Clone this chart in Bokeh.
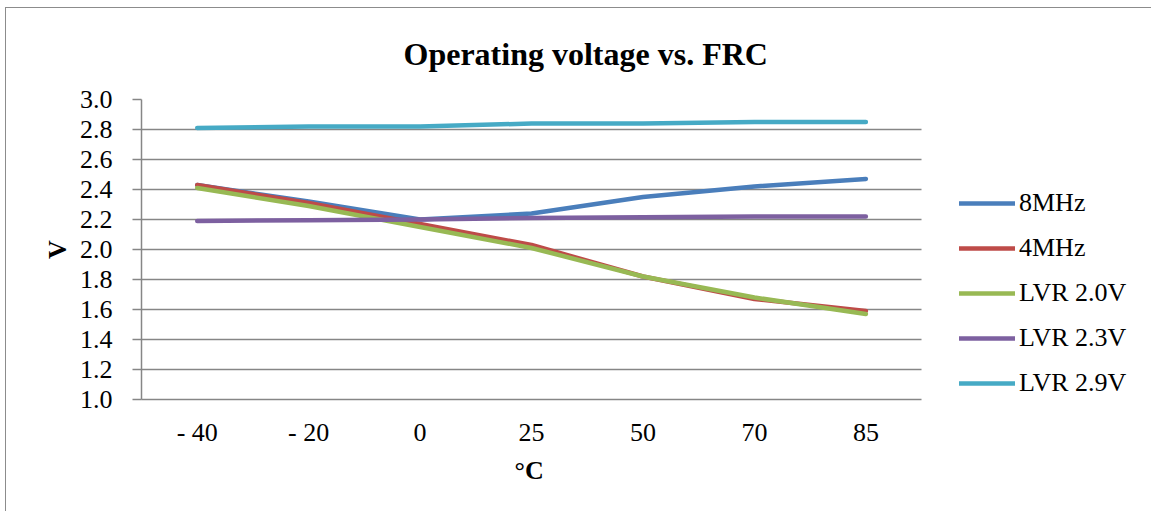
from bokeh.plotting import figure
from bokeh.models import FactorRange, Range1d, FixedTicker, Legend, LegendItem, Title, PrintfTickFormatter
from bokeh.embed import file_html
from bokeh.resources import INLINE

categories = ["- 40", "- 20", "0", "25", "50", "70", "85"]
mhz8 = [2.43, 2.32, 2.20, 2.24, 2.35, 2.42, 2.47]
mhz4 = [2.43, 2.31, 2.17, 2.03, 1.82, 1.67, 1.59]
lvr20 = [2.41, 2.29, 2.15, 2.01, 1.82, 1.68, 1.57]
lvr23 = [2.19, 2.195, 2.20, 2.21, 2.215, 2.22, 2.22]
lvr29 = [2.81, 2.82, 2.82, 2.84, 2.84, 2.85, 2.85]
series_names = ["8MHz", "4MHz", "LVR 2.0V", "LVR 2.3V", "LVR 2.9V"]
series_colors = ["#4A7EBB", "#BE4B48", "#98B954", "#7D60A0", "#46AAC5"]
y_ticks = [1.0, 1.2, 1.4, 1.6, 1.8, 2.0, 2.2, 2.4, 2.6, 2.8, 3.0]
# empty slots to the right of the plot area, where the legend sits
legend_slots = [" ", "  "]

FONT = "Liberation Serif"
GRAY = "#868686"

n_cat = len(categories)
p = figure(width=1146, height=504,
           x_range=FactorRange(*(categories + legend_slots), range_padding=0),
           y_range=Range1d(1.0, 3.0),
           output_backend="svg", toolbar_location=None,
           min_border_left=135, min_border_right=8,
           min_border_top=91, min_border_bottom=113)
p.styles = {"margin-left": "5px", "margin-top": "7px",
            "border-left": "1.5px solid #8c8c8c", "border-top": "1.5px solid #8c8c8c"}
p.outline_line_color = None

p.title = Title(text="Operating voltage vs. FRC", align="left", offset=262,
                vertical_align="top",
                text_font=FONT, text_font_size="32px", text_font_style="bold",
                text_color="black", standoff=51)

renderers = []
for vals, name, col in zip([mhz8, mhz4, lvr20, lvr23, lvr29], series_names, series_colors):
    r = p.line(categories, vals, line_color=col, line_width=4.5,
               line_cap="round", line_join="round")
    renderers.append(r)

legend = Legend(items=[LegendItem(label=n, renderers=[r]) for n, r in zip(series_names, renderers)],
                location=(818, 1), glyph_width=56, glyph_height=20, label_height=20,
                spacing=15, padding=0, margin=0, label_standoff=4,
                border_line_alpha=0, background_fill_alpha=0,
                label_text_font=FONT, label_text_font_size="26px", label_text_color="black")
p.add_layout(legend)

# x axis title, placed under the category axis (not under the legend slots)
p.add_layout(Title(text="°C", align="left", offset=373, vertical_align="top",
                   text_font=FONT, text_font_size="26px", text_font_style="bold",
                   text_color="black", standoff=12), "below")

p.xgrid.grid_line_color = None
p.ygrid.grid_line_color = GRAY
p.ygrid.grid_line_width = 1.5
p.ygrid.cross_bounds = (0, n_cat)
p.xaxis.bounds = (0, n_cat)
p.yaxis.ticker = FixedTicker(ticks=y_ticks)
p.yaxis.formatter = PrintfTickFormatter(format="%.1f")
p.yaxis.minor_tick_line_color = None
p.yaxis.major_tick_in = 0
p.yaxis.major_tick_out = 9
p.yaxis.major_label_standoff = 20
p.xaxis.major_tick_out = 0
p.xaxis.major_tick_in = 0
p.xaxis.major_label_standoff = 18
for ax in (p.xaxis[0], p.yaxis[0]):
    ax.axis_line_color = GRAY
    ax.axis_line_width = 1.5
    ax.major_tick_line_color = GRAY if ax is p.yaxis[0] else None
    ax.major_tick_line_width = 1.5
    ax.major_label_text_font = FONT
    ax.major_label_text_font_size = "26px"
    ax.major_label_text_color = "black"
    ax.axis_label_text_font = FONT
    ax.axis_label_text_font_size = "26px"
    ax.axis_label_text_font_style = "bold"
    ax.axis_label_text_color = "black"
p.yaxis.axis_label = "V"
p.yaxis.axis_label_standoff = 5

open("out.html", "w").write(file_html(p, INLINE))
